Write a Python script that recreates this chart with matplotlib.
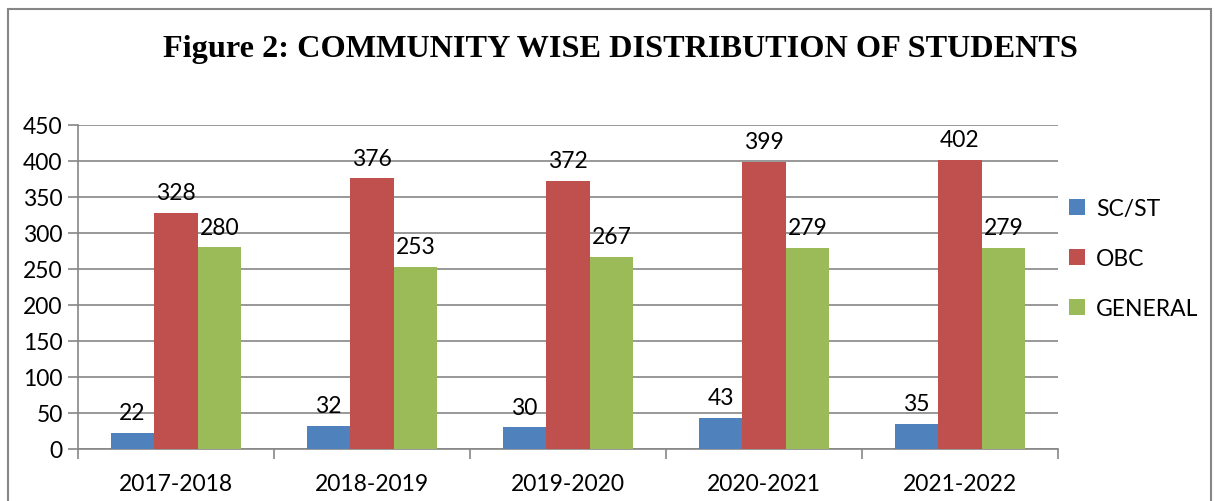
import matplotlib
matplotlib.use("Agg")
import matplotlib.pyplot as plt
from matplotlib.patches import Rectangle
import numpy as np

categories = ["2017-2018", "2018-2019", "2019-2020", "2020-2021", "2021-2022"]
sc_st = [22, 32, 30, 43, 35]
obc = [328, 376, 372, 399, 402]
general = [280, 253, 267, 279, 279]
series_names = ["SC/ST", "OBC", "GENERAL"]
colors = ["#4F81BD", "#C0504D", "#9BBB59"]
title = "Figure 2: COMMUNITY WISE DISTRIBUTION OF STUDENTS"

fig = plt.figure(figsize=(12.15, 5.02), dpi=100)
fig.patch.set_facecolor("white")
fig.patches.append(Rectangle((8/1215, -0.05), (1211-8)/1215, 1.05 - 10/502,
                             transform=fig.transFigure, fill=False,
                             edgecolor="#868686", linewidth=1.5))

ax = fig.add_axes([78/1215, 1-450/502, (1058-78)/1215, (450-126)/502])
font = "Lato"
fs = 16.5
grid_c = "#868686"

x = np.arange(len(categories))
w = 0.222
for i, (vals, name, c) in enumerate(zip([sc_st, obc, general], series_names, colors)):
    pos = x + (i - 1) * w
    ax.bar(pos, vals, width=w, color=c, label=name, zorder=3)
    for p, v in zip(pos, vals):
        ax.annotate(str(v), (p, v), xytext=(0, 7), textcoords="offset points",
                    ha="center", va="bottom", fontsize=fs, family=font)

ax.set_xlim(-0.5, len(categories) - 0.5)
ax.set_ylim(0, 450)
ax.set_yticks(range(0, 451, 50))
ax.yaxis.grid(True, color=grid_c, linewidth=1.2, zorder=0)
ax.set_axisbelow(True)
ax.set_xticks(x)
ax.set_xticklabels(categories, fontsize=fs, family=font)
ax.set_xticks(np.arange(-0.5, len(categories), 1), minor=True)
ax.tick_params(axis="x", which="major", length=0, pad=17)
ax.tick_params(axis="x", which="minor", length=7, color=grid_c, width=1.2)
ax.tick_params(axis="y", length=7, color=grid_c, width=1.2, labelsize=fs, pad=4)
for lab in ax.get_yticklabels():
    lab.set_family(font)
for s in ["top", "right"]:
    ax.spines[s].set_visible(False)
for s in ["left", "bottom"]:
    ax.spines[s].set_color(grid_c)
    ax.spines[s].set_linewidth(1.2)

ax.legend(loc="center left", bbox_to_anchor=(0.99, 0.588), frameon=False,
          prop={"family": font, "size": fs}, handlelength=0.7, handleheight=0.7,
          labelspacing=1.25, handletextpad=0.5)

fig.text(620/1215, 1-49/502, title, ha="center", va="center",
         fontsize=23.2, fontweight="bold", family="Liberation Serif")

fig.savefig("out.png", dpi=100)
